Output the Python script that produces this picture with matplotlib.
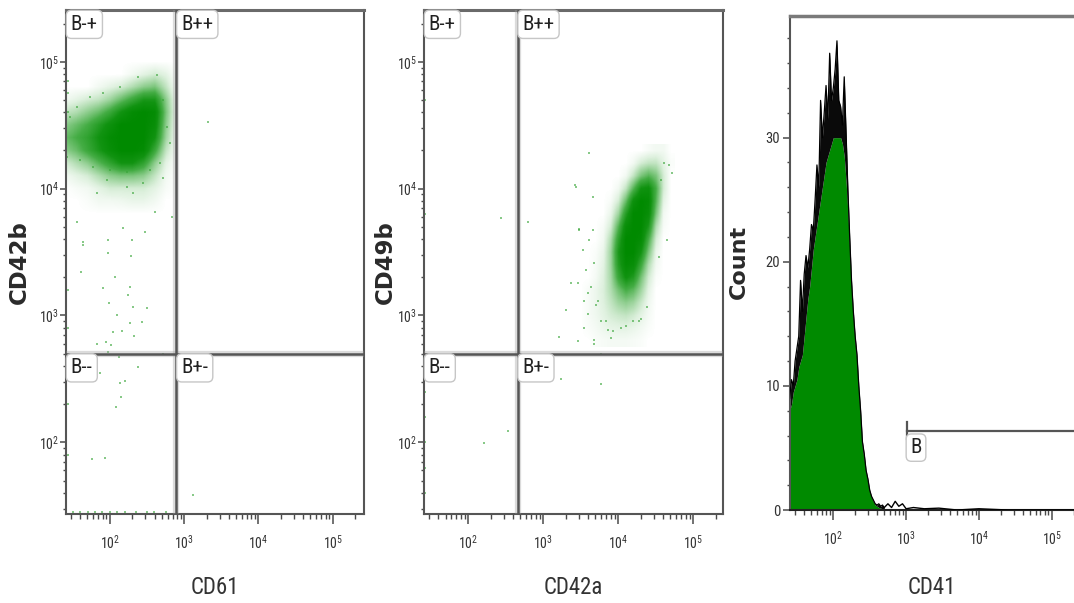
import numpy as np
import matplotlib
matplotlib.use('Agg')
import matplotlib.pyplot as plt
from matplotlib import font_manager, transforms
from matplotlib.colors import LinearSegmentedColormap
from matplotlib.ticker import FixedLocator, NullFormatter

# all positions are log10 of the fluorescence value

# --- CD61 vs CD42b : dense population, density ---
cd61_nodes = [1.40, 1.55, 1.70, 1.85, 2.00, 2.15, 2.30, 2.45, 2.60, 2.75, 2.90]
cd42b_nodes = [3.8, 3.9, 4.0, 4.1, 4.2, 4.3, 4.4, 4.5, 4.6, 4.7, 4.8, 4.9, 5.0]
cloud1 = [
    [0, 0, 0, 0, 0, 0, 0, 0, 0, 0, 0],
    [0, 0, 0.02, 0.05, 0.05, 0.06, 0.08, 0.08, 0.05, 0, 0],
    [0, 0.03, 0.05, 0.1, 0.15, 0.15, 0.15, 0.15, 0.1, 0.03, 0],
    [0.05, 0.1, 0.15, 0.25, 0.35, 0.4, 0.4, 0.35, 0.2, 0.05, 0],
    [0.15, 0.25, 0.35, 0.5, 0.65, 0.8, 0.8, 0.65, 0.35, 0.1, 0],
    [0.35, 0.45, 0.6, 0.75, 0.9, 1, 1, 0.95, 0.6, 0.2, 0],
    [0.45, 0.55, 0.65, 0.8, 0.95, 1, 1, 1, 0.8, 0.3, 0],
    [0.35, 0.45, 0.55, 0.7, 0.85, 1, 1, 1, 0.9, 0.35, 0],
    [0.2, 0.25, 0.35, 0.45, 0.6, 0.8, 0.95, 1, 0.95, 0.4, 0],
    [0.05, 0.1, 0.15, 0.2, 0.3, 0.45, 0.6, 0.75, 0.75, 0.35, 0],
    [0, 0, 0, 0.05, 0.1, 0.15, 0.25, 0.35, 0.4, 0.2, 0],
    [0, 0, 0, 0, 0, 0, 0.05, 0.1, 0.15, 0.1, 0],
    [0, 0, 0, 0, 0, 0, 0, 0, 0, 0, 0],
]
# single events outside the dense part
cd61_events = [1.557, 1.638, 1.611, 1.973, 1.973, 2.067, 1.906, 2.242, 2.295, 2.470,
               2.604, 2.832, 2.309, 1.826, 1.638, 2.174, 2.282, 2.268, 1.987, 2.309,
               2.497, 2.094, 2.430, 2.268, 2.161, 2.040, 2.322, 1.826, 1.946, 2.013,
               1.973, 2.121, 2.376, 2.711, 1.826, 1.866, 2.201, 2.134, 2.148, 2.081,
               1.758, 1.933, 2.430, 3.315, 3.114,
               2.376, 2.631, 2.134, 1.906, 1.732, 2.711, 1.557, 1.463, 2.765, 2.805,
               1.423, 1.597, 1.772, 2.000, 2.228, 2.537, 2.671, 1.960, 2.443, 2.711,
               2.228,
               1.44, 1.44, 1.44, 1.44, 1.44, 1.44, 1.44, 1.44,
               1.50, 1.60, 1.70, 1.80, 1.90, 2.00, 2.10, 2.20, 2.35, 2.50, 2.60, 2.75]
cd42b_events = [3.738, 3.556, 3.341, 3.595, 3.492, 3.302, 3.214, 3.159, 3.595, 3.659,
                3.817, 3.778, 3.968, 3.968, 3.579, 3.690, 3.468, 3.222, 3.095, 3.063,
                3.056, 3.000, 2.952, 2.937, 2.881, 2.873, 2.841, 2.778, 2.794, 2.770,
                2.714, 2.675, 2.595, 2.698, 2.643, 2.548, 2.484, 2.468, 2.357, 2.278,
                1.865, 1.873, 5.397, 4.524, 1.587,
                4.879, 4.894, 4.800, 4.753, 4.721, 4.697, 4.642, 4.563, 4.484, 4.358,
                4.248, 4.224, 4.169, 4.145, 4.129, 4.145, 4.200, 4.066, 4.042, 4.081,
                4.011,
                4.85, 4.75, 4.60, 3.20, 2.90, 2.60, 2.30, 1.90,
                1.45, 1.45, 1.45, 1.45, 1.45, 1.45, 1.45, 1.45, 1.45, 1.45, 1.45, 1.45]

# --- CD42a vs CD49b ---
cd42a_nodes = [3.5, 3.6, 3.7, 3.8, 3.9, 4.0, 4.1, 4.2, 4.3, 4.4, 4.5, 4.6, 4.7]
cd49b_nodes = [2.8, 2.9, 3.0, 3.1, 3.2, 3.3, 3.4, 3.5, 3.6, 3.7, 3.8, 3.9, 4.0, 4.1, 4.2, 4.3]
cloud2 = [
    [0, 0, 0.02, 0.03, 0.04, 0.04, 0.04, 0.03, 0.02, 0, 0, 0, 0],
    [0, 0.02, 0.04, 0.07, 0.09, 0.1, 0.1, 0.08, 0.05, 0.02, 0, 0, 0],
    [0, 0.03, 0.06, 0.1, 0.15, 0.18, 0.2, 0.16, 0.1, 0.04, 0, 0, 0],
    [0, 0.03, 0.07, 0.12, 0.2, 0.3, 0.35, 0.3, 0.18, 0.06, 0, 0, 0],
    [0, 0.03, 0.07, 0.13, 0.25, 0.42, 0.55, 0.48, 0.3, 0.1, 0, 0, 0],
    [0, 0, 0.04, 0.12, 0.28, 0.6, 0.82, 0.72, 0.42, 0.16, 0.02, 0, 0],
    [0, 0, 0.03, 0.1, 0.3, 0.7, 0.95, 0.9, 0.6, 0.25, 0.05, 0, 0],
    [0, 0, 0.02, 0.08, 0.3, 0.75, 1, 1, 0.8, 0.4, 0.08, 0, 0],
    [0, 0, 0, 0.05, 0.25, 0.65, 1, 1, 0.95, 0.55, 0.15, 0, 0],
    [0, 0, 0, 0.03, 0.15, 0.5, 0.9, 1, 1, 0.75, 0.25, 0.03, 0],
    [0, 0, 0, 0, 0.08, 0.3, 0.7, 1, 1, 0.9, 0.4, 0.05, 0],
    [0, 0, 0, 0, 0.03, 0.15, 0.45, 0.85, 1, 0.95, 0.5, 0.1, 0],
    [0, 0, 0, 0, 0, 0.05, 0.2, 0.5, 0.8, 0.85, 0.55, 0.15, 0],
    [0, 0, 0, 0, 0, 0, 0.05, 0.2, 0.4, 0.5, 0.4, 0.15, 0],
    [0, 0, 0, 0, 0, 0, 0, 0.05, 0.15, 0.2, 0.2, 0.1, 0.02],
    [0, 0, 0, 0, 0, 0, 0, 0, 0, 0.03, 0.05, 0.05, 0],
]
cd42a_events = [3.613, 3.427, 2.80, 2.44, 3.48, 3.373, 3.60, 3.213, 3.24, 3.773,
                3.773, 2.533, 2.213, 3.467, 3.68, 3.307, 3.84, 3.93, 4.107, 4.307,
                3.707, 4.573, 4.68,
                3.444, 3.671, 3.484, 3.671, 3.618, 3.537, 3.684, 3.578, 3.471, 3.644,
                3.551, 3.738, 3.604, 3.778, 3.551, 3.872, 3.684, 3.912, 4.045, 4.206,
                4.286, 4.380, 4.553, 4.647, 4.714, 4.607,
                1.43, 1.43, 1.43, 1.43, 1.43, 1.43, 1.43, 1.43]
cd49b_events = [4.278, 4.032, 3.738, 3.770, 3.683, 3.254, 3.175, 2.833, 2.5, 2.698,
                2.46, 2.087, 1.992, 2.802, 2.778, 3.04, 2.96, 2.88, 2.92, 2.976,
                3.08, 4.071, 4.19,
                4.010, 3.931, 3.671, 3.671, 3.592, 3.513, 3.410, 3.355, 3.253, 3.221,
                3.118, 3.118, 3.015, 2.960, 2.905, 2.882, 2.803, 2.826, 2.905, 2.960,
                2.960, 3.063, 3.458, 3.592, 4.121, 4.200,
                2.6, 2.4, 2.2, 2.0, 1.8, 1.6, 4.7, 3.8]

# --- CD41 histogram ---
cd41_bins = [1.400, 1.425, 1.450, 1.475, 1.500, 1.525, 1.550, 1.575, 1.600, 1.625,
             1.650, 1.675, 1.700, 1.725, 1.750, 1.775, 1.800, 1.825, 1.850, 1.875,
             1.900, 1.925, 1.950, 1.975, 2.000, 2.025, 2.050, 2.075, 2.100, 2.125,
             2.150, 2.175, 2.200, 2.225, 2.250, 2.275, 2.300, 2.325, 2.350, 2.375,
             2.400, 2.425, 2.450, 2.475, 2.500, 2.525, 2.550, 2.575, 2.600, 2.625,
             2.650, 2.675, 2.700]
count_base = [8, 8.5, 9.5, 10, 10.5, 11.5, 12, 12.5, 14, 15.5,
              17, 18, 19.5, 21, 22, 23, 24, 25, 26, 27,
              28, 28.5, 29, 29.5, 30, 30, 30, 30, 30, 29.5,
              28.5, 26.5, 24, 21, 18, 15.5, 13.5, 12, 9.5, 7.5,
              5, 4, 3, 2.2, 1.5, 1.0, 0.7, 0.4, 0.3, 0.2,
              0.15, 0.1, 0.1]
count_peak = [9, 10.5, 10, 12, 13, 14, 18.5, 16, 19, 20.5,
              19.5, 21, 23, 22.5, 25, 27.8, 26, 33, 30, 32,
              34.2, 31.5, 36.8, 33, 34, 35.5, 37.8, 33, 32.5, 31,
              34.9, 30.4, 25.8, 22, 18.5, 16, 14, 12.5, 10, 8,
              5.5, 4.5, 3.2, 2.5, 1.6, 1.1, 0.8, 0.5, 0.4, 0.5,
              0.3, 0.4, 0.2]
tail_bins = [2.70, 2.75, 2.80, 2.85, 2.90, 2.95, 3.00, 3.10, 3.25, 3.45, 3.70, 4.00, 4.40, 4.90, 5.40]
tail_counts = [0.2, 0.5, 0.2, 0.7, 0.3, 0.5, 0.1, 0.2, 0.1, 0.15, 0, 0.1, 0, 0, 0]

gate_cd61 = 2.895
gate_cd42a = 2.66
gate_y = 2.70
gate_cd41 = 3.01
gate_count = 6.35

# ---- fonts ----
names = {f.name for f in font_manager.fontManager.ttflist}
narrow = None
for cand in ['Liberation Sans Narrow', 'Roboto Condensed', 'Open Sans Condensed']:
    if cand in names:
        narrow = cand
        break
if narrow is None:
    nfont = dict(family='DejaVu Sans', stretch='condensed')
else:
    nfont = dict(family=narrow)
plt.rcParams['font.family'] = nfont['family']
plt.rcParams['mathtext.default'] = 'regular'
extra = {k: v for k, v in nfont.items() if k != 'family'}

green_cmap = LinearSegmentedColormap.from_list(
    'fc', [(0, '#ffffff'), (0.12, '#dff1df'), (0.3, '#9fd59f'), (0.55, '#45ad45'),
           (0.8, '#119311'), (1, '#008a00')])
axis_col = '#4a4a4a'
text_col = '#333333'

fig = plt.figure(figsize=(10.74, 6.03), dpi=100)
W, H = 1074, 603


def box(l, t, r, b):
    return [l / W, 1 - b / H, (r - l) / W, (b - t) / H]


def log_minors(lo, hi):
    out = []
    for n in range(0, 7):
        for k in range(2, 10):
            v = n + np.log10(k)
            if lo < v < hi:
                out.append(v)
    return out


def style_log_axis(axis, lo, hi):
    axis.set_major_locator(FixedLocator([2, 3, 4, 5]))
    axis.set_minor_locator(FixedLocator(log_minors(lo, hi)))
    axis.set_major_formatter(plt.FuncFormatter(lambda v, p: r'$10^{%d}$' % v))
    axis.set_minor_formatter(NullFormatter())


def gate_label(ax, x, y, s):
    tr = transforms.offset_copy(ax.transData, fig=fig, x=3.5, y=-3.5, units='points')
    ax.text(x, y, s, transform=tr, ha='left', va='top', fontsize=15, color='#222222',
            zorder=6, bbox=dict(boxstyle='round,pad=0.22,rounding_size=0.25',
                                fc='white', ec='#c6c6c6', lw=1.0), **extra)


def dot_plot(ax, xnodes, ynodes, grid, ex, ey, gx, xlim, ylim, ylabel, xlabel, cx):
    dx = xnodes[1] - xnodes[0]
    dy = ynodes[1] - ynodes[0]
    ax.imshow(np.array(grid), origin='lower', aspect='auto', interpolation='bilinear',
              cmap=green_cmap, vmin=0, vmax=1, zorder=1,
              extent=[xnodes[0] - dx / 2, xnodes[-1] + dx / 2,
                      ynodes[0] - dy / 2, ynodes[-1] + dy / 2])
    ax.scatter(ex, ey, s=3, marker='s', color='#39a539', alpha=0.6, linewidths=0, zorder=2)
    ax.set_xlim(*xlim)
    ax.set_ylim(*ylim)
    for lw, c, a in [(4.5, '#9a9a9a', 0.35), (1.8, '#555555', 1.0)]:
        ax.axvline(gx, color=c, lw=lw, alpha=a, zorder=4)
        ax.axhline(gate_y, color=c, lw=lw, alpha=a, zorder=4)
    style_log_axis(ax.xaxis, *xlim)
    style_log_axis(ax.yaxis, *ylim)
    ax.tick_params(axis='x', which='major', length=7, width=1.1, pad=7, labelsize=10,
                   colors=axis_col, labelcolor=text_col)
    ax.tick_params(axis='x', which='minor', length=3.5, width=1.0, colors=axis_col)
    ax.tick_params(axis='y', which='major', length=4, width=1.1, pad=1, labelsize=10,
                   colors=axis_col, labelcolor=text_col)
    ax.tick_params(axis='y', which='minor', length=2.5, width=1.0, colors=axis_col)
    for side, sp in ax.spines.items():
        sp.set_color('#555555')
        sp.set_linewidth(1.5)
    ax.spines['top'].set_color('#6a6a6a')
    ax.spines['top'].set_linewidth(2.2)
    gate_label(ax, xlim[0], ylim[1], 'B-+')
    gate_label(ax, gx, ylim[1], 'B++')
    gate_label(ax, xlim[0], gate_y, 'B--')
    gate_label(ax, gx, gate_y, 'B+-')
    fig.text(cx, 1 - 262 / H, ylabel, rotation=90, ha='center', va='center',
             fontsize=16.5, fontweight='bold', family='DejaVu Sans', color='#2a2a2a')
    fig.text((ax.get_position().x0 + ax.get_position().x1) / 2, 1 - 587 / H, xlabel,
             ha='center', va='center', fontsize=16.5, color='#333333', **extra)


ax1 = fig.add_axes(box(66, 10, 364, 514))
dot_plot(ax1, cd61_nodes, cd42b_nodes, cloud1, cd61_events, cd42b_events, gate_cd61,
         (1.41, 5.42), (1.435, 5.408), 'CD42b', 'CD61', 19 / W)

ax2 = fig.add_axes(box(424, 10, 723, 514))
dot_plot(ax2, cd42a_nodes, cd49b_nodes, cloud2, cd42a_events, cd49b_events, gate_cd42a,
         (1.412, 5.40), (1.435, 5.408), 'CD49b', 'CD42a', 385 / W)

# histogram
ax3 = fig.add_axes(box(790, 16, 1074, 510))
base = np.array(count_base)
peak = np.array(count_peak)
ax3.fill_between(cd41_bins, 0, base, color='#008a00', lw=0, zorder=2)
ax3.fill_between(cd41_bins, base, peak, where=peak > base, color='#0a0a0a', lw=0,
                 interpolate=True, zorder=2)
ax3.plot(cd41_bins, peak, color='black', lw=0.9, zorder=3)
ax3.plot(tail_bins, tail_counts, color='black', lw=1.0, zorder=3)
ax3.set_xlim(1.405, 5.306)
ax3.set_ylim(0, 39.8)
ax3.plot([gate_cd41, 5.5], [gate_count, gate_count], color='#555555', lw=1.6, zorder=4,
         clip_on=False)
ax3.plot([gate_cd41, gate_cd41], [gate_count - 0.6, gate_count + 0.7], color='#555555',
         lw=1.6, zorder=4)
tr = transforms.offset_copy(ax3.transData, fig=fig, x=2.5, y=-5, units='points')
ax3.text(gate_cd41, gate_count, 'B', transform=tr, ha='left', va='top', fontsize=15,
         color='#222222', zorder=6,
         bbox=dict(boxstyle='round,pad=0.2,rounding_size=0.25', fc='white', ec='#c6c6c6', lw=1.0),
         **extra)
style_log_axis(ax3.xaxis, 1.405, 5.306)
ax3.yaxis.set_major_locator(FixedLocator([0, 10, 20, 30]))
ax3.yaxis.set_minor_locator(FixedLocator([v for v in range(2, 40, 2) if v % 10]))
ax3.tick_params(axis='x', which='major', length=7, width=1.1, pad=7, labelsize=10,
                colors=axis_col, labelcolor=text_col)
ax3.tick_params(axis='x', which='minor', length=3.5, width=1.0, colors=axis_col)
ax3.tick_params(axis='y', which='major', length=5, width=1.1, pad=2, labelsize=10.5,
                colors=axis_col, labelcolor=text_col)
ax3.tick_params(axis='y', which='minor', length=2.5, width=1.0, colors=axis_col)
ax3.spines['right'].set_visible(False)
ax3.spines['left'].set_color('#555555')
ax3.spines['left'].set_linewidth(1.5)
ax3.spines['bottom'].set_color('#222222')
ax3.spines['bottom'].set_linewidth(1.5)
ax3.spines['top'].set_color('#7a7a7a')
ax3.spines['top'].set_linewidth(2.5)
fig.text(739 / W, 1 - 262 / H, 'Count', rotation=90, ha='center', va='center',
         fontsize=16, fontweight='bold', family='DejaVu Sans', color='#2a2a2a')
fig.text(932 / W, 1 - 587 / H, 'CD41', ha='center', va='center', fontsize=16.5,
         color='#333333', **extra)

fig.savefig('out.png', dpi=100)
